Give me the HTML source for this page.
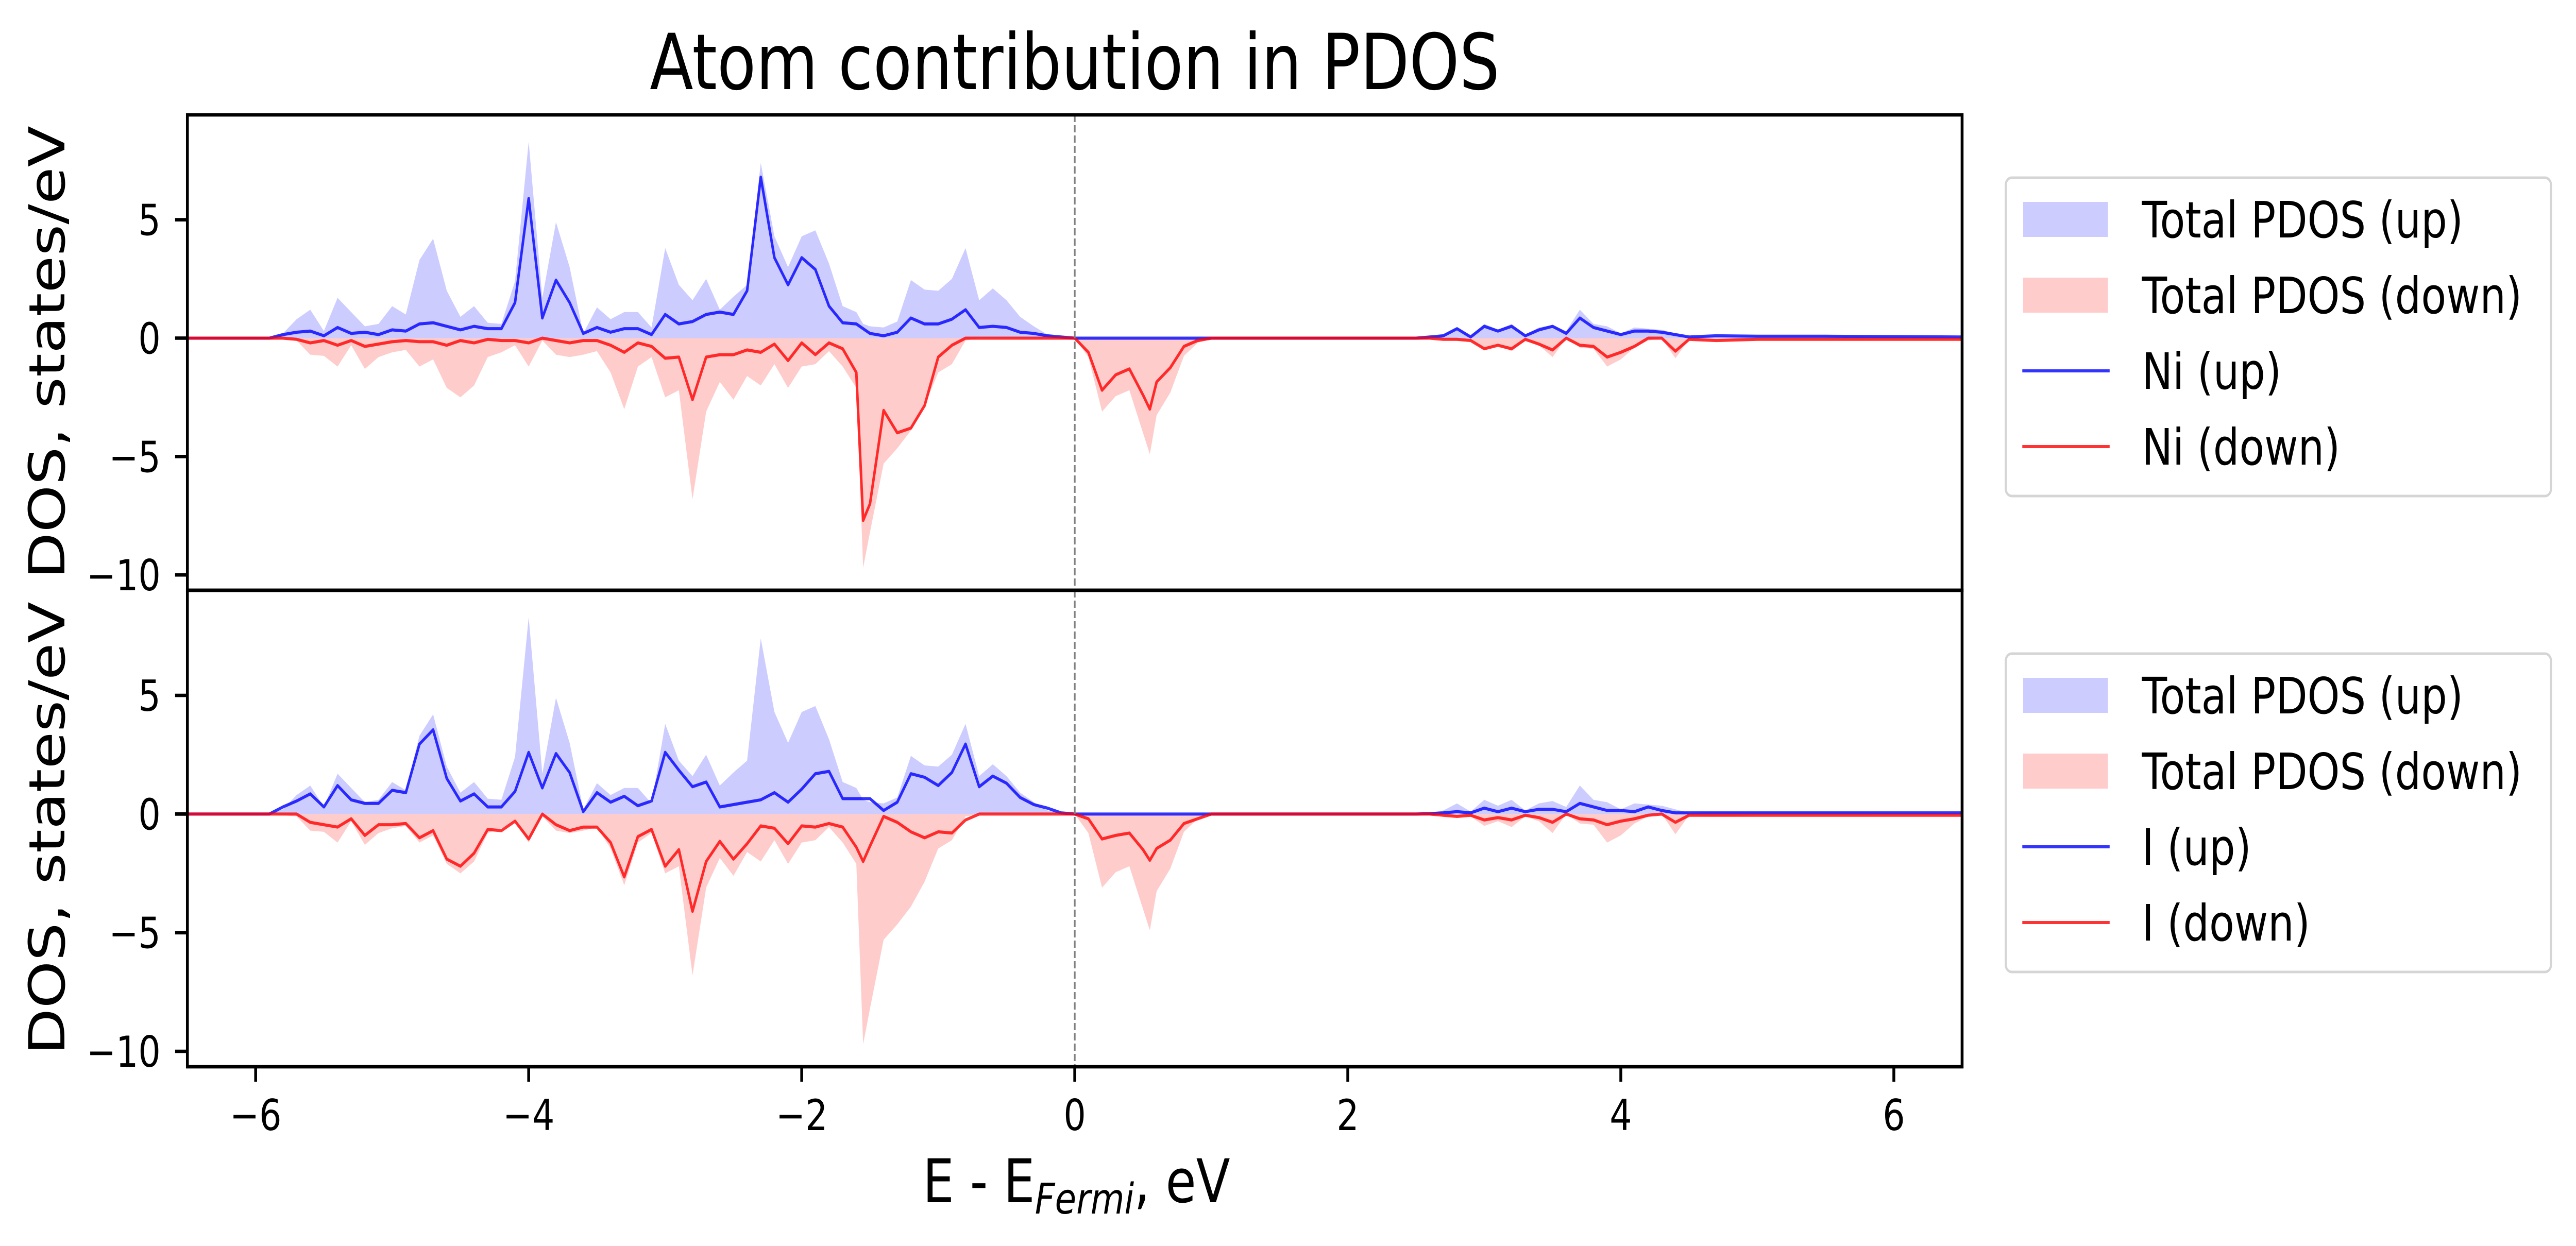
<!DOCTYPE html>
<html><head><meta charset="utf-8"><title>Atom contribution in PDOS</title>
<style>
html,body{margin:0;padding:0;background:#fff;width:100%;height:100%;overflow:hidden;}
svg{display:block;font-family:"DejaVu Sans","Liberation Sans",sans-serif;overflow:hidden;width:100vw;height:100vh;}
</style></head>
<body>
<svg id="chart" xmlns="http://www.w3.org/2000/svg" viewBox="0 0 6076 2419" preserveAspectRatio="none">
<rect x="0" y="0" width="6076" height="2419" fill="#fff"/>
<text x="2535" y="173" font-size="150" text-anchor="middle">Atom contribution in PDOS</text>
<g id="plot"></g>
<text x="2539" y="2334" font-size="117" text-anchor="middle">E - E<tspan font-size="82" font-style="italic" dy="22">Fermi</tspan><tspan dy="-22">, eV</tspan></text>
<text transform="translate(152,684) rotate(-90)" font-size="117" text-anchor="middle">DOS, states/eV</text>
<text transform="translate(152,1608) rotate(-90)" font-size="117" text-anchor="middle">DOS, states/eV</text>
</svg>
<script>
const energies = [-6.5,-6.0,-5.9,-5.8,-5.7,-5.6,-5.5,-5.4,-5.3,-5.2,-5.1,-5.0,-4.9,-4.8,-4.7,-4.6,-4.5,-4.4,-4.3,-4.2,-4.1,-4.0,-3.9,-3.8,-3.7,-3.6,-3.5,-3.4,-3.3,-3.2,-3.1,-3.0,-2.9,-2.8,-2.7,-2.6,-2.5,-2.4,-2.3,-2.2,-2.1,-2.0,-1.9,-1.8,-1.7,-1.6,-1.55,-1.5,-1.4,-1.3,-1.2,-1.1,-1.0,-0.9,-0.8,-0.7,-0.6,-0.5,-0.4,-0.3,-0.2,-0.1,0.0,0.1,0.2,0.3,0.4,0.5,0.55,0.6,0.7,0.8,0.9,1.0,2.5,2.6,2.7,2.8,2.9,3.0,3.1,3.2,3.3,3.4,3.5,3.6,3.7,3.8,3.9,4.0,4.1,4.2,4.3,4.4,4.5,4.7,5.0,5.5,6.5];
const totalUp = [0,0,0,0.2,0.8,1.2,0.3,1.7,1.1,0.5,0.6,1.35,1.0,3.3,4.2,2.0,0.9,1.35,0.65,0.6,2.4,8.3,1.7,4.9,3.0,0.2,1.3,0.8,1.1,1.1,0.45,3.8,2.25,1.6,2.5,1.2,1.75,2.25,7.4,4.3,3.0,4.3,4.55,3.15,1.35,1.1,0.6,0.5,0.45,0.7,2.45,2.05,2.0,2.5,3.8,1.6,2.1,1.6,0.9,0.5,0.15,0.05,0,0,0,0,0,0,0,0,0,0,0,0,0,0.05,0.15,0.45,0.1,0.6,0.35,0.6,0.15,0.45,0.55,0.3,1.2,0.6,0.5,0.2,0.45,0.4,0.35,0.2,0.05,0.1,0.08,0.08,0.05];
const totalDown = [0,0,0,-0.05,-0.1,-0.7,-0.75,-1.2,-0.3,-1.3,-0.8,-0.6,-0.5,-1.2,-0.9,-2.1,-2.5,-2.0,-0.8,-0.6,-0.3,-1.2,-0.1,-0.7,-0.8,-0.7,-0.55,-1.45,-3.0,-1.2,-0.8,-2.5,-2.2,-6.8,-3.1,-1.85,-2.6,-1.6,-2.0,-1.1,-2.1,-1.2,-1.1,-0.55,-1.2,-2.1,-9.7,-8.2,-5.3,-4.65,-3.9,-2.85,-1.45,-1.1,-0.1,0,0,0,0,0,0,0,0,-0.8,-3.1,-2.45,-2.2,-4.0,-4.9,-3.25,-2.3,-0.75,-0.2,0,0,0,-0.05,-0.1,-0.1,-0.5,-0.3,-0.55,-0.1,-0.3,-0.8,0,-0.4,-0.45,-1.2,-0.9,-0.4,-0.1,0,-0.85,-0.05,-0.1,-0.05,-0.05,-0.05];
const niUp = [0,0,0,0.15,0.25,0.3,0.1,0.45,0.2,0.25,0.15,0.35,0.3,0.6,0.65,0.5,0.35,0.5,0.4,0.4,1.5,5.9,0.85,2.45,1.5,0.2,0.45,0.25,0.4,0.4,0.15,1.0,0.6,0.7,1.0,1.1,1.0,2.0,6.8,3.4,2.25,3.4,2.9,1.35,0.65,0.6,0.4,0.2,0.1,0.25,0.85,0.6,0.6,0.8,1.2,0.45,0.5,0.45,0.25,0.2,0.1,0.05,0,0,0,0,0,0,0,0,0,0,0,0,0,0.05,0.1,0.4,0.05,0.5,0.3,0.5,0.1,0.35,0.5,0.2,0.85,0.45,0.3,0.15,0.3,0.3,0.25,0.15,0.05,0.1,0.08,0.08,0.05];
const niDown = [0,0,0,0,-0.05,-0.2,-0.1,-0.3,-0.1,-0.35,-0.25,-0.15,-0.1,-0.15,-0.15,-0.3,-0.1,-0.2,-0.05,-0.1,-0.1,-0.2,0,-0.1,-0.2,-0.1,-0.1,-0.3,-0.6,-0.2,-0.35,-0.85,-0.8,-2.6,-0.8,-0.7,-0.7,-0.5,-0.6,-0.25,-0.95,-0.2,-0.7,-0.2,-0.45,-1.45,-7.7,-7.0,-3.05,-4.0,-3.8,-2.85,-0.8,-0.3,0,0,0,0,0,0,0,0,0,-0.6,-2.2,-1.55,-1.3,-2.4,-3.0,-1.85,-1.25,-0.35,-0.1,0,0,0,-0.05,-0.05,-0.1,-0.45,-0.3,-0.45,-0.05,-0.25,-0.5,0,-0.3,-0.35,-0.8,-0.6,-0.35,0,0,-0.55,-0.05,-0.1,-0.05,-0.05,-0.05];
const iUp = [0,0,0,0.3,0.55,0.85,0.3,1.2,0.6,0.45,0.45,1.0,0.9,2.95,3.55,1.5,0.55,0.85,0.3,0.3,0.95,2.6,1.1,2.55,1.75,0.1,0.9,0.5,0.75,0.35,0.55,2.6,1.85,1.15,1.35,0.3,0.4,0.5,0.6,0.9,0.5,1.05,1.7,1.8,0.65,0.65,0.65,0.65,0.15,0.5,1.7,1.55,1.2,1.75,2.95,1.15,1.6,1.3,0.7,0.4,0.25,0.05,0,0,0,0,0,0,0,0,0,0,0,0,0,0.02,0.05,0.1,0.05,0.25,0.1,0.25,0.1,0.2,0.2,0.1,0.45,0.3,0.15,0.15,0.1,0.3,0.15,0.05,0.05,0.05,0.05,0.05,0.05];
const iDown = [0,0,0,0,0,-0.35,-0.45,-0.55,-0.2,-0.9,-0.45,-0.45,-0.4,-1.0,-0.7,-1.9,-2.2,-1.65,-0.65,-0.7,-0.3,-1.05,0,-0.45,-0.7,-0.55,-0.55,-1.2,-2.65,-0.95,-0.65,-2.2,-1.5,-4.1,-2.0,-1.15,-1.9,-1.25,-0.5,-0.6,-1.25,-0.5,-0.55,-0.4,-0.55,-1.4,-2.0,-1.35,-0.1,-0.35,-0.75,-1.0,-0.75,-0.8,-0.25,0,0,0,0,0,0,0,0,-0.2,-1.05,-0.9,-0.8,-1.5,-1.95,-1.45,-1.1,-0.4,-0.2,0,0,0,-0.05,-0.1,-0.05,-0.25,-0.15,-0.25,-0.05,-0.15,-0.35,0,-0.2,-0.25,-0.45,-0.3,-0.2,-0.05,0,-0.35,-0.05,-0.05,-0.05,-0.05,-0.05];
const xTicks = [-6,-4,-2,0,2,4,6];
const xTickLabels = ["\u22126","\u22124","\u22122","0","2","4","6"];
const yTicks = [-10,-5,0,5];
const yTickLabels = ["\u221210","\u22125","0","5"];
const panelNames = ["Ni","I"];

const NS = "http://www.w3.org/2000/svg";
const plot = document.getElementById('plot');
const X0 = 442, X1 = 4628, XMIN = -6.5, XMAX = 6.5;
const YMIN = -10.65, YMAX = 9.43;
const panels = [{top:223,bottom:1146,up:niUp,down:niDown},{top:1146,bottom:2071,up:iUp,down:iDown}];
function xs(v){return X0 + (v - XMIN) / (XMAX - XMIN) * (X1 - X0);}
function mk(tag, attrs, parent){const e=document.createElementNS(NS,tag);for(const k in attrs)e.setAttribute(k,attrs[k]);(parent||plot).appendChild(e);return e;}

panels.forEach((p, pi) => {
  const ys = v => p.bottom - (v - YMIN) / (YMAX - YMIN) * (p.bottom - p.top);
  const g = mk('g', {});
  
  
  const clipId = 'clip' + pi;
  const cp = mk('clipPath', {id: clipId}, g);
  mk('rect', {x: X0, y: p.top, width: X1 - X0, height: p.bottom - p.top}, cp);
  const inner = mk('g', {'clip-path': 'url(#' + clipId + ')'}, g);
  function area(arr, color, name){
    let d = 'M' + xs(energies[0]) + ',' + ys(0);
    energies.forEach((e, i) => { d += 'L' + xs(e).toFixed(1) + ',' + ys(arr[i]).toFixed(1); });
    d += 'L' + xs(energies[energies.length-1]) + ',' + ys(0) + 'Z';
    const a = mk('path', {d: d, fill: color, stroke: 'none'}, inner);
    
    
  }
  function line(arr, color, name){
    let d = '';
    energies.forEach((e, i) => { d += (i ? 'L' : 'M') + xs(e).toFixed(1) + ',' + ys(arr[i]).toFixed(1); });
    const l = mk('path', {d: d, fill: 'none', stroke: color, 'stroke-width': 6, 'stroke-linejoin': 'round'}, inner);
    
    
  }
  area(totalUp, '#ccccff', 'total-pdos-up-area');
  area(totalDown, '#ffcccc', 'total-pdos-down-area');
  line(p.up, 'rgba(0,0,255,0.8)', panelNames[pi].toLowerCase() + '-up-line');
  line(p.down, 'rgba(255,0,0,0.8)', panelNames[pi].toLowerCase() + '-down-line');
  const fl = mk('line', {x1: xs(0), x2: xs(0), y1: p.top, y2: p.bottom, stroke: '#808080', 'stroke-width': 4, 'stroke-dasharray': '14,6'}, inner);
  
  
  yTicks.forEach((t, i) => {
    const y = ys(t);
    const tk = mk('line', {x1: X0 - 29, x2: X0, y1: y, y2: y, stroke: '#000', 'stroke-width': 6.7}, g);
    
    
    const tl = mk('text', {x: 379, y: y + 30, 'font-size': 83, 'text-anchor': 'end'}, g);
    tl.textContent = yTickLabels[i];
    
    
  });
  const fr = mk('rect', {x: X0, y: p.top, width: X1 - X0, height: p.bottom - p.top, fill: 'none', stroke: '#000', 'stroke-width': 6.7}, g);
  
  
});

xTicks.forEach((t, i) => {
  const x = xs(t);
  const tk = mk('line', {x1: x, x2: x, y1: 2071, y2: 2100, stroke: '#000', 'stroke-width': 6.7});
  
  
  const tl = mk('text', {x: x, y: 2194, 'font-size': 83, 'text-anchor': 'middle'});
  tl.textContent = xTickLabels[i];
  
  
});

const legendTops = [345, 1269];
panelNames.forEach((nm, li) => {
  const top = legendTops[li];
  const lg = mk('g', {});
  
  
  const box = mk('rect', {x: 4731, y: top, width: 1286, height: 618, rx: 14, fill: '#fff', stroke: '#d5d5d5', 'stroke-width': 5}, lg);
  
  
  const labels = ['Total PDOS (up)', 'Total PDOS (down)', nm + ' (up)', nm + ' (down)'];
  labels.forEach((lab, k) => {
    const cy = top + 81 + k * 147;
    if (k < 2) {
      const sw = mk('rect', {x: 4772, y: cy - 34, width: 200, height: 68, fill: k === 0 ? '#ccccff' : '#ffcccc'}, lg);
      
      
    } else {
      const sl = mk('line', {x1: 4770, x2: 4976, y1: cy, y2: cy, stroke: k === 2 ? 'rgba(0,0,255,0.8)' : 'rgba(255,0,0,0.8)', 'stroke-width': 6}, lg);
      
      
    }
    const tx = mk('text', {x: 5052, y: cy + 35, 'font-size': 97}, lg);
    tx.textContent = lab;
    
    
  });
});
</script>
</body></html>
